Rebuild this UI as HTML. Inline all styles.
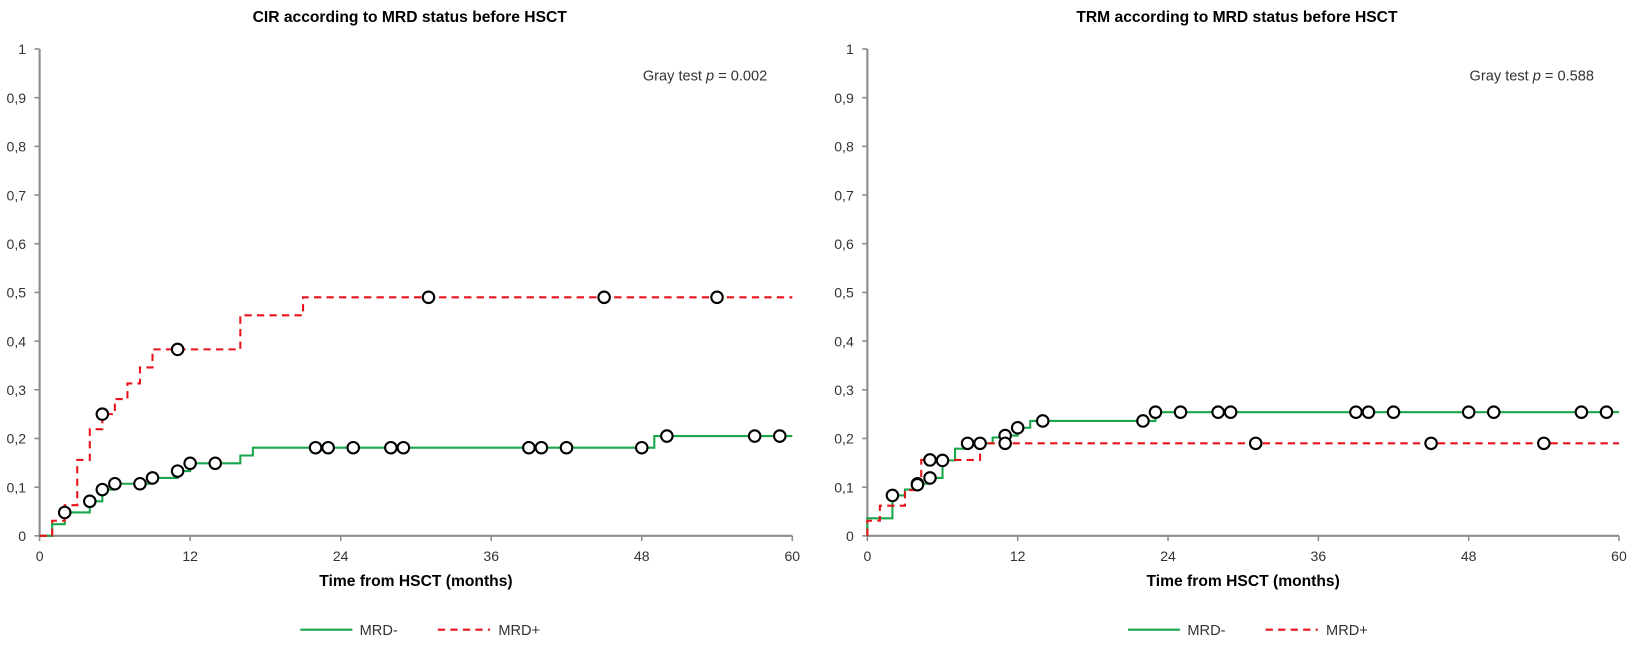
<!DOCTYPE html>
<html><head><meta charset="utf-8"><style>
body{margin:0;background:#fff;width:1635px;height:643px;overflow:hidden;font-family:"Liberation Sans",Arial,sans-serif}
svg text{font-family:"Liberation Sans",Arial,sans-serif}
</style></head><body>
<svg width="1635" height="643" xmlns="http://www.w3.org/2000/svg"><g id="s" transform="scale(1.0425)"></g></svg>
<script>
const xTicks=[0,12,24,36,48,60];
const yTicks=[0,0.1,0.2,0.3,0.4,0.5,0.6,0.7,0.8,0.9,1];
const yTickLabels=["0","0,1","0,2","0,3","0,4","0,5","0,6","0,7","0,8","0,9","1"];
const titles=["CIR according to MRD status before HSCT","TRM according to MRD status before HSCT"];
const pLabels=["0.002","0.588"];
// CIR MRD-
const cirNegT=[0,1,2,4,5,6,9,11,12,16,17,49,60];
const cirNegV=[0,0.024,0.048,0.071,0.095,0.107,0.119,0.133,0.149,0.165,0.181,0.205,0.205];
const cirNegCensT=[2,4,5,6,8,9,11,12,14,22,23,25,28,29,39,40,42,48,50,57,59];
const cirNegCensV=[0.048,0.071,0.095,0.107,0.107,0.119,0.133,0.149,0.149,0.181,0.181,0.181,0.181,0.181,0.181,0.181,0.181,0.181,0.205,0.205,0.205];
// CIR MRD+
const cirPosT=[0,1,2,3,4,5,6,7,8,9,16,21,60];
const cirPosV=[0,0.031,0.063,0.156,0.219,0.25,0.281,0.313,0.346,0.383,0.453,0.49,0.49];
const cirPosCensT=[5,11,31,45,54];
const cirPosCensV=[0.25,0.383,0.49,0.49,0.49];
// TRM MRD-
const trmNegT=[0,2,3,4,5,6,7,8,10,11,12,13,23,60];
const trmNegV=[0.036,0.083,0.095,0.107,0.119,0.155,0.179,0.19,0.202,0.206,0.222,0.236,0.254,0.254];
const trmNegCensT=[2,4,5,6,8,9,11,12,14,22,23,25,28,29,39,40,42,48,50,57,59];
const trmNegCensV=[0.083,0.107,0.119,0.155,0.19,0.19,0.206,0.222,0.236,0.236,0.254,0.254,0.254,0.254,0.254,0.254,0.254,0.254,0.254,0.254,0.254];
// TRM MRD+
const trmPosT=[0,1,3,4.3,9,60];
const trmPosV=[0.031,0.062,0.094,0.156,0.19,0.19];
const trmPosCensT=[4,5,11,31,45,54];
const trmPosCensV=[0.105,0.156,0.19,0.19,0.19,0.19];

const NS="http://www.w3.org/2000/svg";
const svg=document.getElementById('s');
function mk(tag,attrs,parent){const e=document.createElementNS(NS,tag);for(const k in attrs)e.setAttribute(k,attrs[k]);(parent||svg).appendChild(e);return e;}
const Y0=514,Y1=47;
function chart(idx,x0,x1,negT,negV,negC,negCV,posT,posV,posC,posCV){
  const g=mk('g',{});
  
  
  const sx=t=>x0+(x1-x0)*t/60, sy=v=>Y0-(Y0-Y1)*v;
  const tt=mk('text',{x:(x0+x1)/2-6,y:21,'text-anchor':'middle','font-size':15,'font-weight':'bold'},g);tt.textContent=titles[idx];
  
  
  const ax=mk('path',{d:`M${x0},${Y1}V${Y0}H${x1}`,stroke:'#8c8c8c','stroke-width':2,fill:'none'},g);
  
  
  yTicks.forEach((v,i)=>{mk('line',{x1:x0-5,x2:x0,y1:sy(v),y2:sy(v),stroke:'#8c8c8c','stroke-width':1.5},g);
    const t=mk('text',{x:x0-13,y:sy(v)+5,'text-anchor':'end','font-size':13.5,fill:'#333'},g);t.textContent=yTickLabels[i];
    
    });
  xTicks.forEach(v=>{mk('line',{x1:sx(v),x2:sx(v),y1:Y0,y2:Y0+5,stroke:'#8c8c8c','stroke-width':1.5},g);
    const t=mk('text',{x:sx(v),y:Y0+24,'text-anchor':'middle','font-size':13.5,fill:'#333'},g);t.textContent=v;
    
    });
  const xt=mk('text',{x:(x0+x1)/2,y:562,'text-anchor':'middle','font-size':15,'font-weight':'bold'},g);xt.textContent='Time  from HSCT (months)';
  
  
  const pt=mk('text',{x:x1-24,y:77,'text-anchor':'end','font-size':14,fill:'#333'},g);
  pt.innerHTML='Gray test <tspan font-style="italic">p</tspan> = '+pLabels[idx];
  
  
  function step(T,V,color,dash,name){
    let d=`M${sx(T[0])},${sy(V[0])}`;
    for(let i=1;i<T.length;i++){d+=`H${sx(T[i])}V${sy(V[i])}`;}
    if(T[0]>0||V[0]>0)d=`M${sx(0)},${sy(0)}V${sy(V[0])}`+d.replace(/^M[^H]*/,'');
    const p=mk('path',{d,stroke:color,'stroke-width':2,fill:'none','stroke-dasharray':dash},g);
    
    
  }
  function cens(T,V,name){T.forEach((t,i)=>{const c=mk('circle',{cx:sx(t),cy:sy(V[i]),r:5.5,fill:'#fff',stroke:'#000','stroke-width':2},g);
    
    });}
  step(negT,negV,'#1aa64b','none','mrd-neg-curve');
  step(posT,posV,'#e8141c','7,5','mrd-pos-curve');
  cens(negC,negCV,'mrd-neg-censor');
  cens(posC,posCV,'mrd-pos-censor');
  const lx=x0+250;
  const l1=mk('g',{},g);
  
  
  mk('line',{x1:lx,x2:lx+50,y1:604,y2:604,stroke:'#1aa64b','stroke-width':2},l1);
  mk('text',{x:lx+57,y:609,'font-size':14,fill:'#333'},l1).textContent='MRD-';
  const l2=mk('g',{},g);
  
  
  mk('line',{x1:lx+132,x2:lx+182,y1:604,y2:604,stroke:'#e8141c','stroke-width':2,'stroke-dasharray':'7,5'},l2);
  mk('text',{x:lx+190,y:609,'font-size':14,fill:'#333'},l2).textContent='MRD+';
}
chart(0,38,760,cirNegT,cirNegV,cirNegCensT,cirNegCensV,cirPosT,cirPosV,cirPosCensT,cirPosCensV);
chart(1,832,1553,trmNegT,trmNegV,trmNegCensT,trmNegCensV,trmPosT,trmPosV,trmPosCensT,trmPosCensV);
</script>
</body></html>
